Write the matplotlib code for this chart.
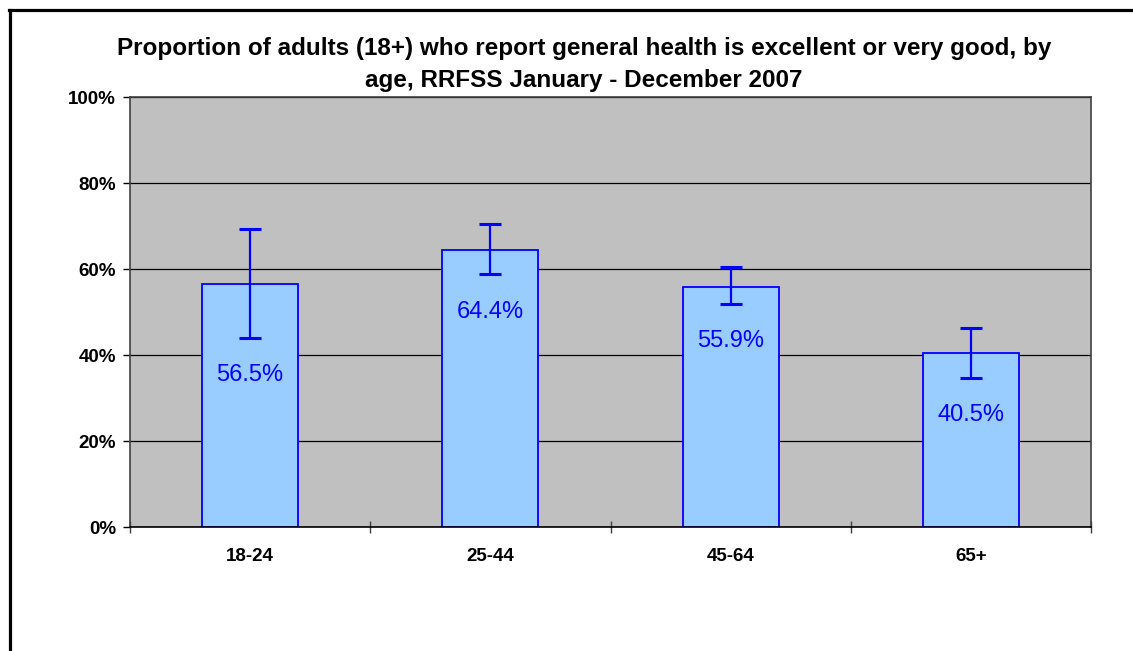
# RRFSS 2007: 年齢別の健康状態(excellent / very good)の割合
import matplotlib.pyplot as plt
from matplotlib.lines import Line2D
from matplotlib.ticker import FuncFormatter

plt.rcParams['font.family'] = ['Liberation Sans', 'DejaVu Sans']

# データ
age_groups = ['18-24', '25-44', '45-64', '65+']
percent = [56.5, 64.4, 55.9, 40.5]
ci_low = [44.0, 58.8, 51.9, 34.7]
ci_high = [69.3, 70.4, 60.4, 46.3]
yticks = [0, 20, 40, 60, 80, 100]

title = ('Proportion of adults (18+) who report general health is excellent or very good, by\n'
         'age, RRFSS January - December 2007')

W, H = 1133, 651
fig = plt.figure(figsize=(W / 100, H / 100), dpi=100)
ax = fig.add_axes([130 / W, 1 - 527 / H, (1091 - 130) / W, (527 - 97) / H])
ax.set_facecolor('#C0C0C0')

x = list(range(len(age_groups)))
err_lo = [p - lo for p, lo in zip(percent, ci_low)]
err_hi = [hi - p for p, hi in zip(percent, ci_high)]

ax.bar(x, percent, width=0.4, color='#99CCFF', edgecolor='#0000FF', linewidth=1.3, zorder=2)
ax.errorbar(x, percent, yerr=[err_lo, err_hi], fmt='none', ecolor='#0000FF',
            elinewidth=1.6, capsize=8, capthick=2.2, zorder=3)

# 値ラベル(誤差範囲の下側)
for xi, p, lo in zip(x, percent, ci_low):
    ax.annotate('%.1f%%' % p, xy=(xi, lo), xytext=(0, -27), textcoords='offset points',
                ha='center', va='center', fontsize=17, color='#0000FF', zorder=4)

ax.set_xlim(-0.5, len(age_groups) - 0.5)
ax.set_ylim(0, 100)
ax.set_yticks(yticks)
ax.yaxis.set_major_formatter(FuncFormatter(lambda v, pos: '%d%%' % v))
ax.yaxis.grid(True, color='black', linewidth=0.9)
ax.set_axisbelow(True)

ax.set_xticks([i - 0.5 for i in range(len(age_groups) + 1)])
ax.set_xticklabels([])
ax.set_xticks(x, minor=True)
ax.set_xticklabels(age_groups, minor=True, fontsize=13.5, fontweight='bold')
ax.tick_params(axis='x', which='major', direction='inout', length=8, width=1, color='#404040')
ax.tick_params(axis='x', which='minor', length=0, pad=15)
ax.tick_params(axis='y', direction='out', length=5, width=1, pad=5, labelsize=13.5)
for lab in ax.get_yticklabels():
    lab.set_fontweight('bold')

for side in ['left', 'right', 'top']:
    ax.spines[side].set_color('#404040')
    ax.spines[side].set_linewidth(1.2)
ax.spines['bottom'].set_color('black')
ax.spines['bottom'].set_linewidth(1.2)

fig.text(584 / W, 1 - 65 / H, title, ha='center', va='center', fontsize=17.5,
         fontweight='bold', linespacing=1.5)

# 外枠(上と左のみ見える)
fig.add_artist(Line2D([9 / W, 1], [1 - 9.5 / H, 1 - 9.5 / H], transform=fig.transFigure,
                      color='black', linewidth=2.3))
fig.add_artist(Line2D([9.5 / W, 9.5 / W], [0, 1 - 9.5 / H], transform=fig.transFigure,
                      color='black', linewidth=2.3))

plt.savefig('out.png', dpi=100)
